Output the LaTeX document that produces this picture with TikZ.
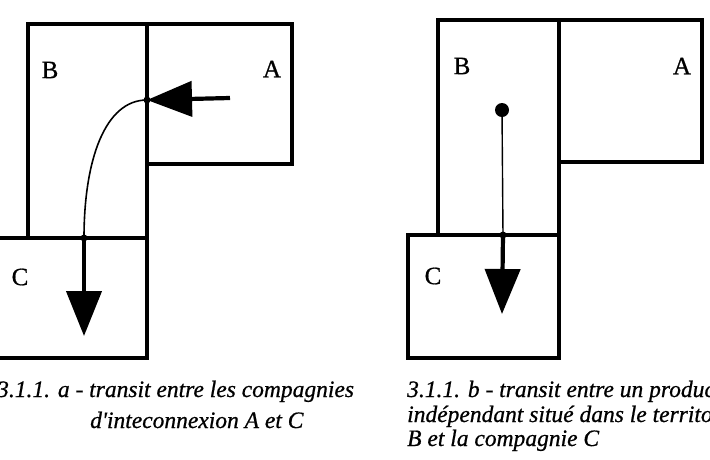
\documentclass[tikz,border=0pt]{standalone}
\usepackage{fontspec}
\setmainfont{Liberation Serif}
\newfontfamily\capfont{Liberation Serif}[ItalicFeatures={FakeBold=0.7},UprightFeatures={FakeBold=0.7}]
\usetikzlibrary{arrows.meta}
\begin{document}
\begin{tikzpicture}[x=1pt,y=-1pt,
  box/.style={draw,line width=3.4pt,line join=miter},
  lab/.style={font=\capfont\fontsize{25}{26}\selectfont,inner sep=0pt},
  captxt/.style={font=\capfont\fontsize{23.5}{24}\selectfont\itshape,anchor=base west,inner sep=0pt},
  bigarrow/.style={line width=4.2pt,-{Triangle[length=45pt,width=35pt]}},
  jdot/.style={circle,fill,inner sep=0pt,minimum size=7pt}]
\useasboundingbox (0,0) rectangle (710,459);
\clip (0,0) rectangle (710,459);
% ---- left diagram
\draw[box] (28,24) rectangle (147,238);
\draw[box] (147,24) rectangle (292,164);
\draw[box] (-2,238) rectangle (147,358);
\node[lab] (lB) at (50,70) {B};
\node[lab] (lA) at (272,69) {A};
\node[lab] (lC) at (20,277) {C};
\coordinate (la0) at (230,98);
\node[jdot] (lj1) at (147,100) {};
\node[jdot] (lj2) at (84,238) {};
\coordinate (ltip) at (84,336);
\draw[bigarrow] (la0) -- (lj1.center);
\draw[line width=1.6pt] (lj1.center) .. controls (105,100) and (84,160) .. (lj2.center);
\draw[bigarrow] (lj2.center) -- (ltip);
% ---- right diagram
\draw[box] (438,20) rectangle (559,235);
\draw[box] (559,20) rectangle (702,162);
\draw[box] (408,235) rectangle (559,358);
\node[lab] (rB) at (462,66) {B};
\node[lab] (rA) at (682,66) {A};
\node[lab] (rC) at (433,276) {C};
\node[circle,fill,inner sep=0pt,minimum size=14pt] (rs) at (502,110) {};
\node[jdot] (rj) at (503,235) {};
\coordinate (rtip) at (502,314);
\draw[line width=1.4pt] (rs.center) -- (rj.center);
\draw[bigarrow] (rj.center) -- (rtip);
% ---- captions
\node[captxt] (c1) at (-3,397) {3.1.1. \textit{a} - transit entre les compagnies};
\node[captxt] (c2) at (90,428) {d'inteconnexion A et C};
\node[captxt] (c3) at (407,397) {3.1.1. \textit{b} - transit entre un producteur};
\node[captxt] (c4) at (407,422) {indépendant situé dans le territoire};
\node[captxt] (c5) at (407,446) {B et la compagnie C};
\end{tikzpicture}
\end{document}
